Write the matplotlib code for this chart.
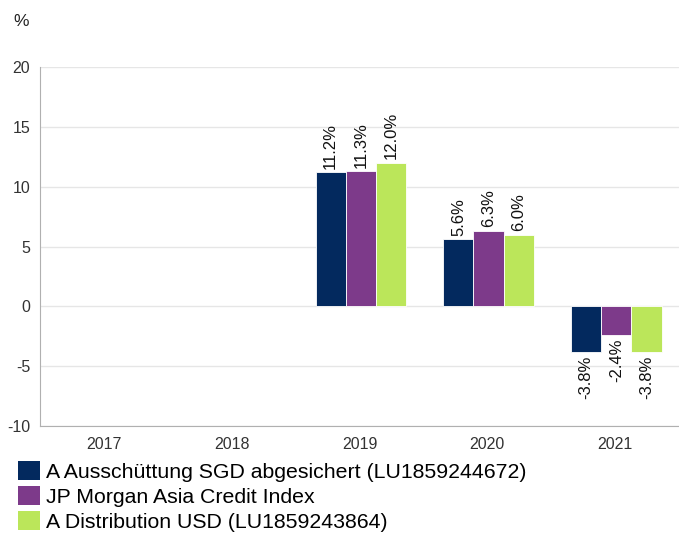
import numpy as np
import matplotlib.pyplot as plt
from matplotlib.patches import Patch

plt.rcParams['font.family'] = ['Liberation Sans', 'DejaVu Sans']
plt.rcParams['axes.unicode_minus'] = False

jahre = ['2017', '2018', '2019', '2020', '2021']
serien = ['A Ausschüttung SGD abgesichert (LU1859244672)',
          'JP Morgan Asia Credit Index',
          'A Distribution USD (LU1859243864)']
fonds_sgd = [np.nan, np.nan, 11.2, 5.6, -3.8]
index_jpm = [np.nan, np.nan, 11.3, 6.3, -2.4]
fonds_usd = [np.nan, np.nan, 12.0, 6.0, -3.8]
farben = ['#03295e', '#7d3a8a', '#bbe65a']

fig = plt.figure(figsize=(6.79, 5.36), dpi=100)
ax = fig.add_axes([40/679, 1-426/536, 639/679, (426-67)/536])

x = np.arange(len(jahre))
breite = 0.236
for i, (werte, farbe) in enumerate(zip([fonds_sgd, index_jpm, fonds_usd], farben)):
    pos = x + (i - 1) * breite + 0.01
    ax.bar(pos, werte, width=breite, color=farbe, edgecolor='white', linewidth=0.6, zorder=3)
    for p, w in zip(pos, werte):
        if np.isnan(w):
            continue
        if w >= 0:
            ax.text(p, w + 0.3, f'{w:.1f}%', rotation=90, ha='center', va='bottom', fontsize=12, color='#111111')
        else:
            ax.text(p, w - 0.3, f'{w:.1f}%', rotation=90, ha='center', va='top', fontsize=12, color='#111111')

ax.set_xlim(-0.5, len(jahre) - 0.5)
ax.set_ylim(-10, 20)
ax.set_yticks([-10, -5, 0, 5, 10, 15, 20])
ax.set_xticks(x)
ax.set_xticklabels(jahre)
ax.tick_params(axis='both', length=0, labelsize=11.5, colors='#333333')
ax.tick_params(axis='x', pad=8)
ax.tick_params(axis='y', pad=7)
ax.grid(axis='y', color='#e6e6e6', linewidth=1, zorder=0)
for s in ['top', 'right']:
    ax.spines[s].set_visible(False)
ax.spines['left'].set_color('#b0b0b0')
ax.spines['bottom'].set_color('#b0b0b0')

fig.text(13/679, 1-22/536, '%', fontsize=12.5, color='#222222', va='center')

handles = [Patch(facecolor=f, edgecolor='none') for f in farben]
fig.legend(handles, serien, loc='upper left', bbox_to_anchor=(16/679, 1-459/536),
           frameon=False, fontsize=15.3, handlelength=1.05, handleheight=1.0,
           handletextpad=0.25, labelspacing=0.2, borderaxespad=0, borderpad=0.1)

fig.savefig('out.png', dpi=100)
